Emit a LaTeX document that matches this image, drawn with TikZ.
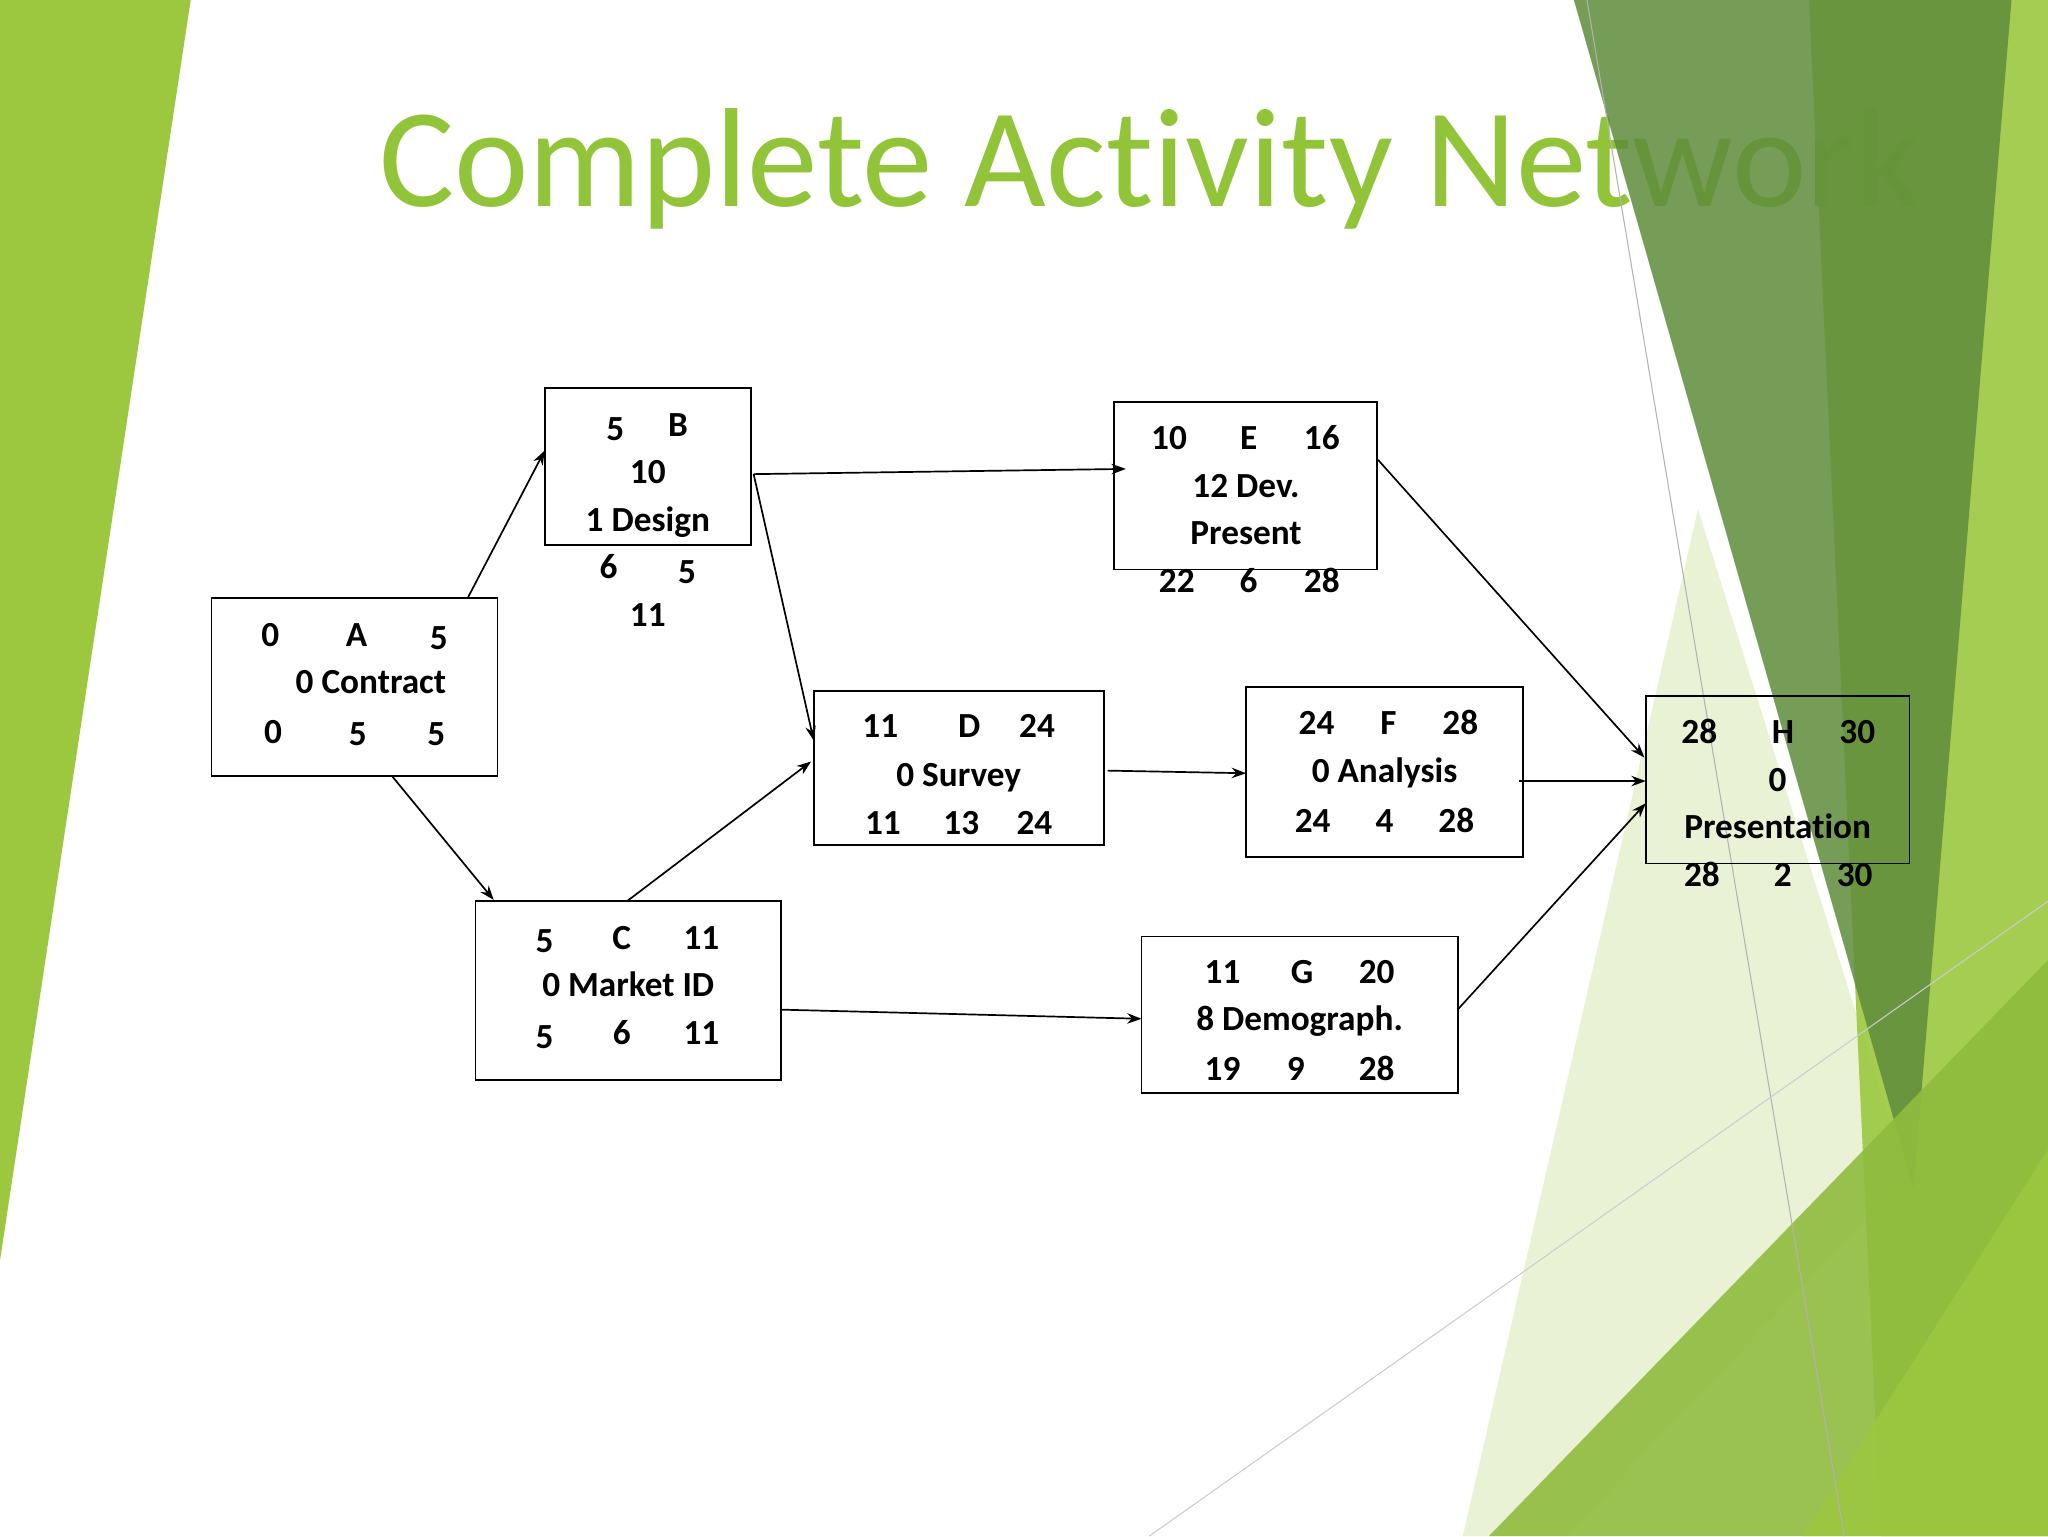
\documentclass[tikz,border=0pt]{standalone}
\usepackage{fontspec}
\setmainfont{Carlito}[Ligatures={NoCommon}]
\usetikzlibrary{arrows.meta}
\definecolor{lg}{HTML}{9BC83F}
\definecolor{dg}{HTML}{5E8C3A}
\definecolor{tg}{HTML}{92C43A}
\tikzset{
  box/.style={draw=black,line width=1.3pt},
  lab/.style={font=\fontsize{27}{27}\selectfont\bfseries,anchor=base,inner sep=0},
  arr/.style={-{Stealth[length=11pt,width=8pt]},line width=1.3pt}
}
\begin{document}
\begin{tikzpicture}[x=1pt,y=-1pt]
\useasboundingbox (0,0) rectangle (1568,1176);
\fill[white] (0,0) rectangle (1568,1176);
% left strip
\fill[lg] (0,0) -- (146,0) -- (0,965) -- cycle;
% title
\node[anchor=base west,inner sep=0,text=tg,font=\fontsize{108}{108}\selectfont] (title) at (290,158) {Complete Act\kern0pt ivity Network};
% right decorations
\fill[lg,opacity=0.22] (1300,390) -- (1460,900) -- (1200,1176) -- (1120,1176) -- cycle;
\fill[lg,opacity=0.9] (1385,0) -- (1568,0) -- (1568,1176) -- (1440,1176) -- cycle;
\fill[dg,opacity=0.85] (1205,0) -- (1540,0) -- (1465,910) -- cycle;
\fill[lg!80!dg,opacity=0.9] (1140,1176) -- (1568,735) -- (1568,1176) -- cycle;
\fill[lg,opacity=0.8] (1380,1176) -- (1568,880) -- (1568,1176) -- cycle;
\draw[gray!60,line width=0.8pt] (1215,0) -- (1412,1176);
\draw[gray!40,line width=0.8pt] (880,1176) -- (1568,690);
% boxes
\draw[box] (162,458) rectangle (381,594);
\draw[box] (417,297) rectangle (575,417);
\draw[box] (853,308) rectangle (1054,436);
\draw[box] (623,529) rectangle (845,647);
\draw[box] (954,526) rectangle (1166,656);
\draw[box] (1260,533) rectangle (1462,661);
\draw[box] (364,690) rectangle (598,827);
\draw[box] (874,717) rectangle (1116,837);
% A
\node[lab] (a1) at (207,495) {0};
\node[lab] (a2) at (273,495) {A};
\node[lab] (a3) at (336,497) {5};
\node[lab] (a4) at (284,531) {0 Contract};
\node[lab] (a5) at (209,569) {0};
\node[lab] (a6) at (274,571) {5};
\node[lab] (a7) at (334,571) {5};
% B
\node[lab] (b1) at (471,337) {5};
\node[lab] (b2) at (519,334) {B};
\node[lab] (b3) at (496,370) {10};
\node[lab] (b4) at (496,407) {1 Design};
\node[lab] (b5) at (466,443) {6};
\node[lab] (b6) at (526,447) {5};
\node[lab] (b7) at (496,480) {11};
% E
\node[lab] (e1) at (895,344) {10};
\node[lab] (e2) at (956,344) {E};
\node[lab] (e3) at (1012,344) {16};
\node[lab] (e4) at (954,381) {12 Dev.};
\node[lab] (e5) at (954,417) {Present};
\node[lab] (e6) at (901,454) {22};
\node[lab] (e7) at (956,454) {6};
\node[lab] (e8) at (1012,454) {28};
% D
\node[lab] (d1) at (674,565) {11};
\node[lab] (d2) at (742,565) {D};
\node[lab] (d3) at (794,565) {24};
\node[lab] (d4) at (734,602) {0 Survey};
\node[lab] (d5) at (676,639) {11};
\node[lab] (d6) at (736,639) {13};
\node[lab] (d7) at (792,639) {24};
% F
\node[lab] (f1) at (1008,562) {24};
\node[lab] (f2) at (1063,562) {F};
\node[lab] (f3) at (1118,562) {28};
\node[lab] (f4) at (1060,599) {0 Analysis};
\node[lab] (f5) at (1005,637) {24};
\node[lab] (f6) at (1060,637) {4};
\node[lab] (f7) at (1115,637) {28};
% H
\node[lab] (h1) at (1301,569) {28};
\node[lab] (h2) at (1365,569) {H};
\node[lab] (h3) at (1422,569) {30};
\node[lab] (h4) at (1361,606) {0};
\node[lab] (h5) at (1361,642) {Presentat\kern0pt ion};
\node[lab] (h6) at (1303,679) {28};
\node[lab] (h7) at (1365,679) {2};
\node[lab] (h8) at (1420,679) {30};
% C
\node[lab] (c1) at (417,729) {5};
\node[lab] (c2) at (476,727) {C};
\node[lab] (c3) at (537,727) {11};
\node[lab] (c4) at (481,763) {0 Market ID};
\node[lab] (c5) at (417,803) {5};
\node[lab] (c6) at (476,800) {6};
\node[lab] (c7) at (537,800) {11};
% G
\node[lab] (g1) at (936,753) {11};
\node[lab] (g2) at (997,753) {G};
\node[lab] (g3) at (1054,753) {20};
\node[lab] (g4) at (995,789) {8 Demograph.};
\node[lab] (g5) at (936,827) {19};
\node[lab] (g6) at (992,827) {9};
\node[lab] (g7) at (1054,827) {28};
% connector endpoints
\coordinate (pa1) at (358,458); \coordinate (pb1) at (417,345);
\coordinate (pa2) at (300,594); \coordinate (pc1) at (378,689);
\coordinate (pb2) at (577,363); \coordinate (pe1) at (862,359);
\coordinate (pd1) at (623,567);
\coordinate (pc2) at (480,690); \coordinate (pd2) at (621,583);
\coordinate (pd3) at (848,590); \coordinate (pf1) at (954,592);
\coordinate (pe2) at (1055,352); \coordinate (ph1) at (1259,580);
\coordinate (pf2) at (1163,598); \coordinate (ph2) at (1260,598);
\coordinate (pc3) at (598,773); \coordinate (pg1) at (874,780);
\coordinate (pg2) at (1116,773); \coordinate (ph3) at (1260,615);
\draw[arr] (pa1) -- (pb1);
\draw[arr] (pa2) -- (pc1);
\draw[arr] (pb2) -- (pe1);
\draw[arr] (pb2) -- (pd1);
\draw[arr] (pc2) -- (pd2);
\draw[arr] (pd3) -- (pf1);
\draw[arr] (pe2) -- (ph1);
\draw[arr] (pf2) -- (ph2);
\draw[arr] (pc3) -- (pg1);
\draw[arr] (pg2) -- (ph3);
\end{tikzpicture}
\end{document}
